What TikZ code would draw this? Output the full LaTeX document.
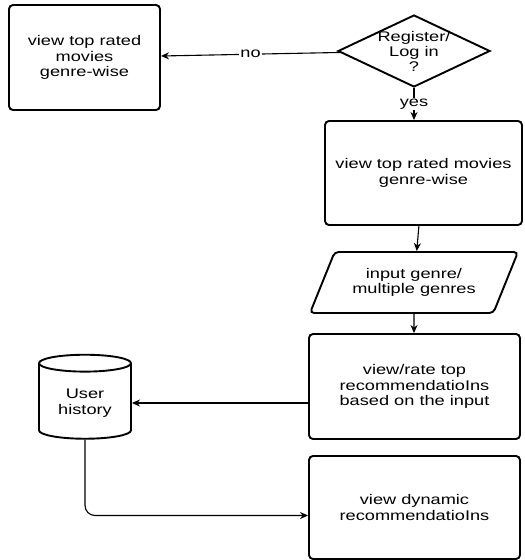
\documentclass[tikz,border=0pt]{standalone}
\usepackage{fontspec}
\setmainfont{Liberation Sans}[FakeStretch=1.3]
\usetikzlibrary{shapes.geometric,arrows.meta}
\begin{document}
\begin{tikzpicture}[x=1pt, y=-1pt,
                    every node/.style={align=center, font=\fontsize{14}{15.5}\selectfont},
                    stepbox/.style={draw, line width=1.9pt, rounded corners=4pt},
                    flow/.style={line width=1.1pt, -{Stealth[length=8pt, width=7pt, inset=2.5pt]}}]
        \useasboundingbox (0,0) rectangle (525,560);
        % Define nodes of the flow
        \node[stepbox, minimum width=151pt, minimum height=105pt] (guest) at (84.5,57.5) {view top rated\\movies\\genre-wise};
        \node[draw, diamond, line width=1.9pt, minimum width=152pt, minimum height=72pt, inner sep=0pt,
              label={[align=center, font=\fontsize{14}{15}\selectfont]center:Register/\\Log in\\?}] (login) at (414,51) {};
        \node[stepbox, minimum width=197pt, minimum height=104pt] (toprated) at (423.5,173) {view top rated movies\\genre-wise};
        \node[draw, trapezium, trapezium left angle=55, trapezium right angle=125, trapezium stretches body,
              line width=1.9pt, rounded corners=4pt, minimum width=208pt, minimum height=61pt] (genres) at (414,282.5) {input genre/\\multiple genres};
        \node[stepbox, minimum width=211pt, minimum height=105pt] (rate) at (414.5,386.5) {view/rate top\\recommendatioIns\\based on the input};
        \node[draw, cylinder, shape border rotate=90, aspect=0.28, line width=1.9pt,
              minimum width=92pt, minimum height=84pt] (history) at (85,403) {User\\history};
        \node[stepbox, minimum width=211pt, minimum height=103pt] (dynamic) at (414.5,507.5) {view dynamic\\recommendatioIns};
        
        % Define connections
        \draw[flow] (login) -- node[fill=white, inner sep=1pt] {no} (guest);
        \draw[flow] (login) -- node[fill=white, inner sep=1pt] {yes} (login |- toprated.north);
        \draw[flow] (toprated) -- (genres);
        \draw[flow] (genres) -- (genres |- rate.north);
        \draw[flow] (rate.west |- history.east) -- (history.east);
        \draw[flow, rounded corners=10pt] (history.south) |- ([yshift=-8pt]dynamic.west);
        
    \end{tikzpicture}
\end{document}
